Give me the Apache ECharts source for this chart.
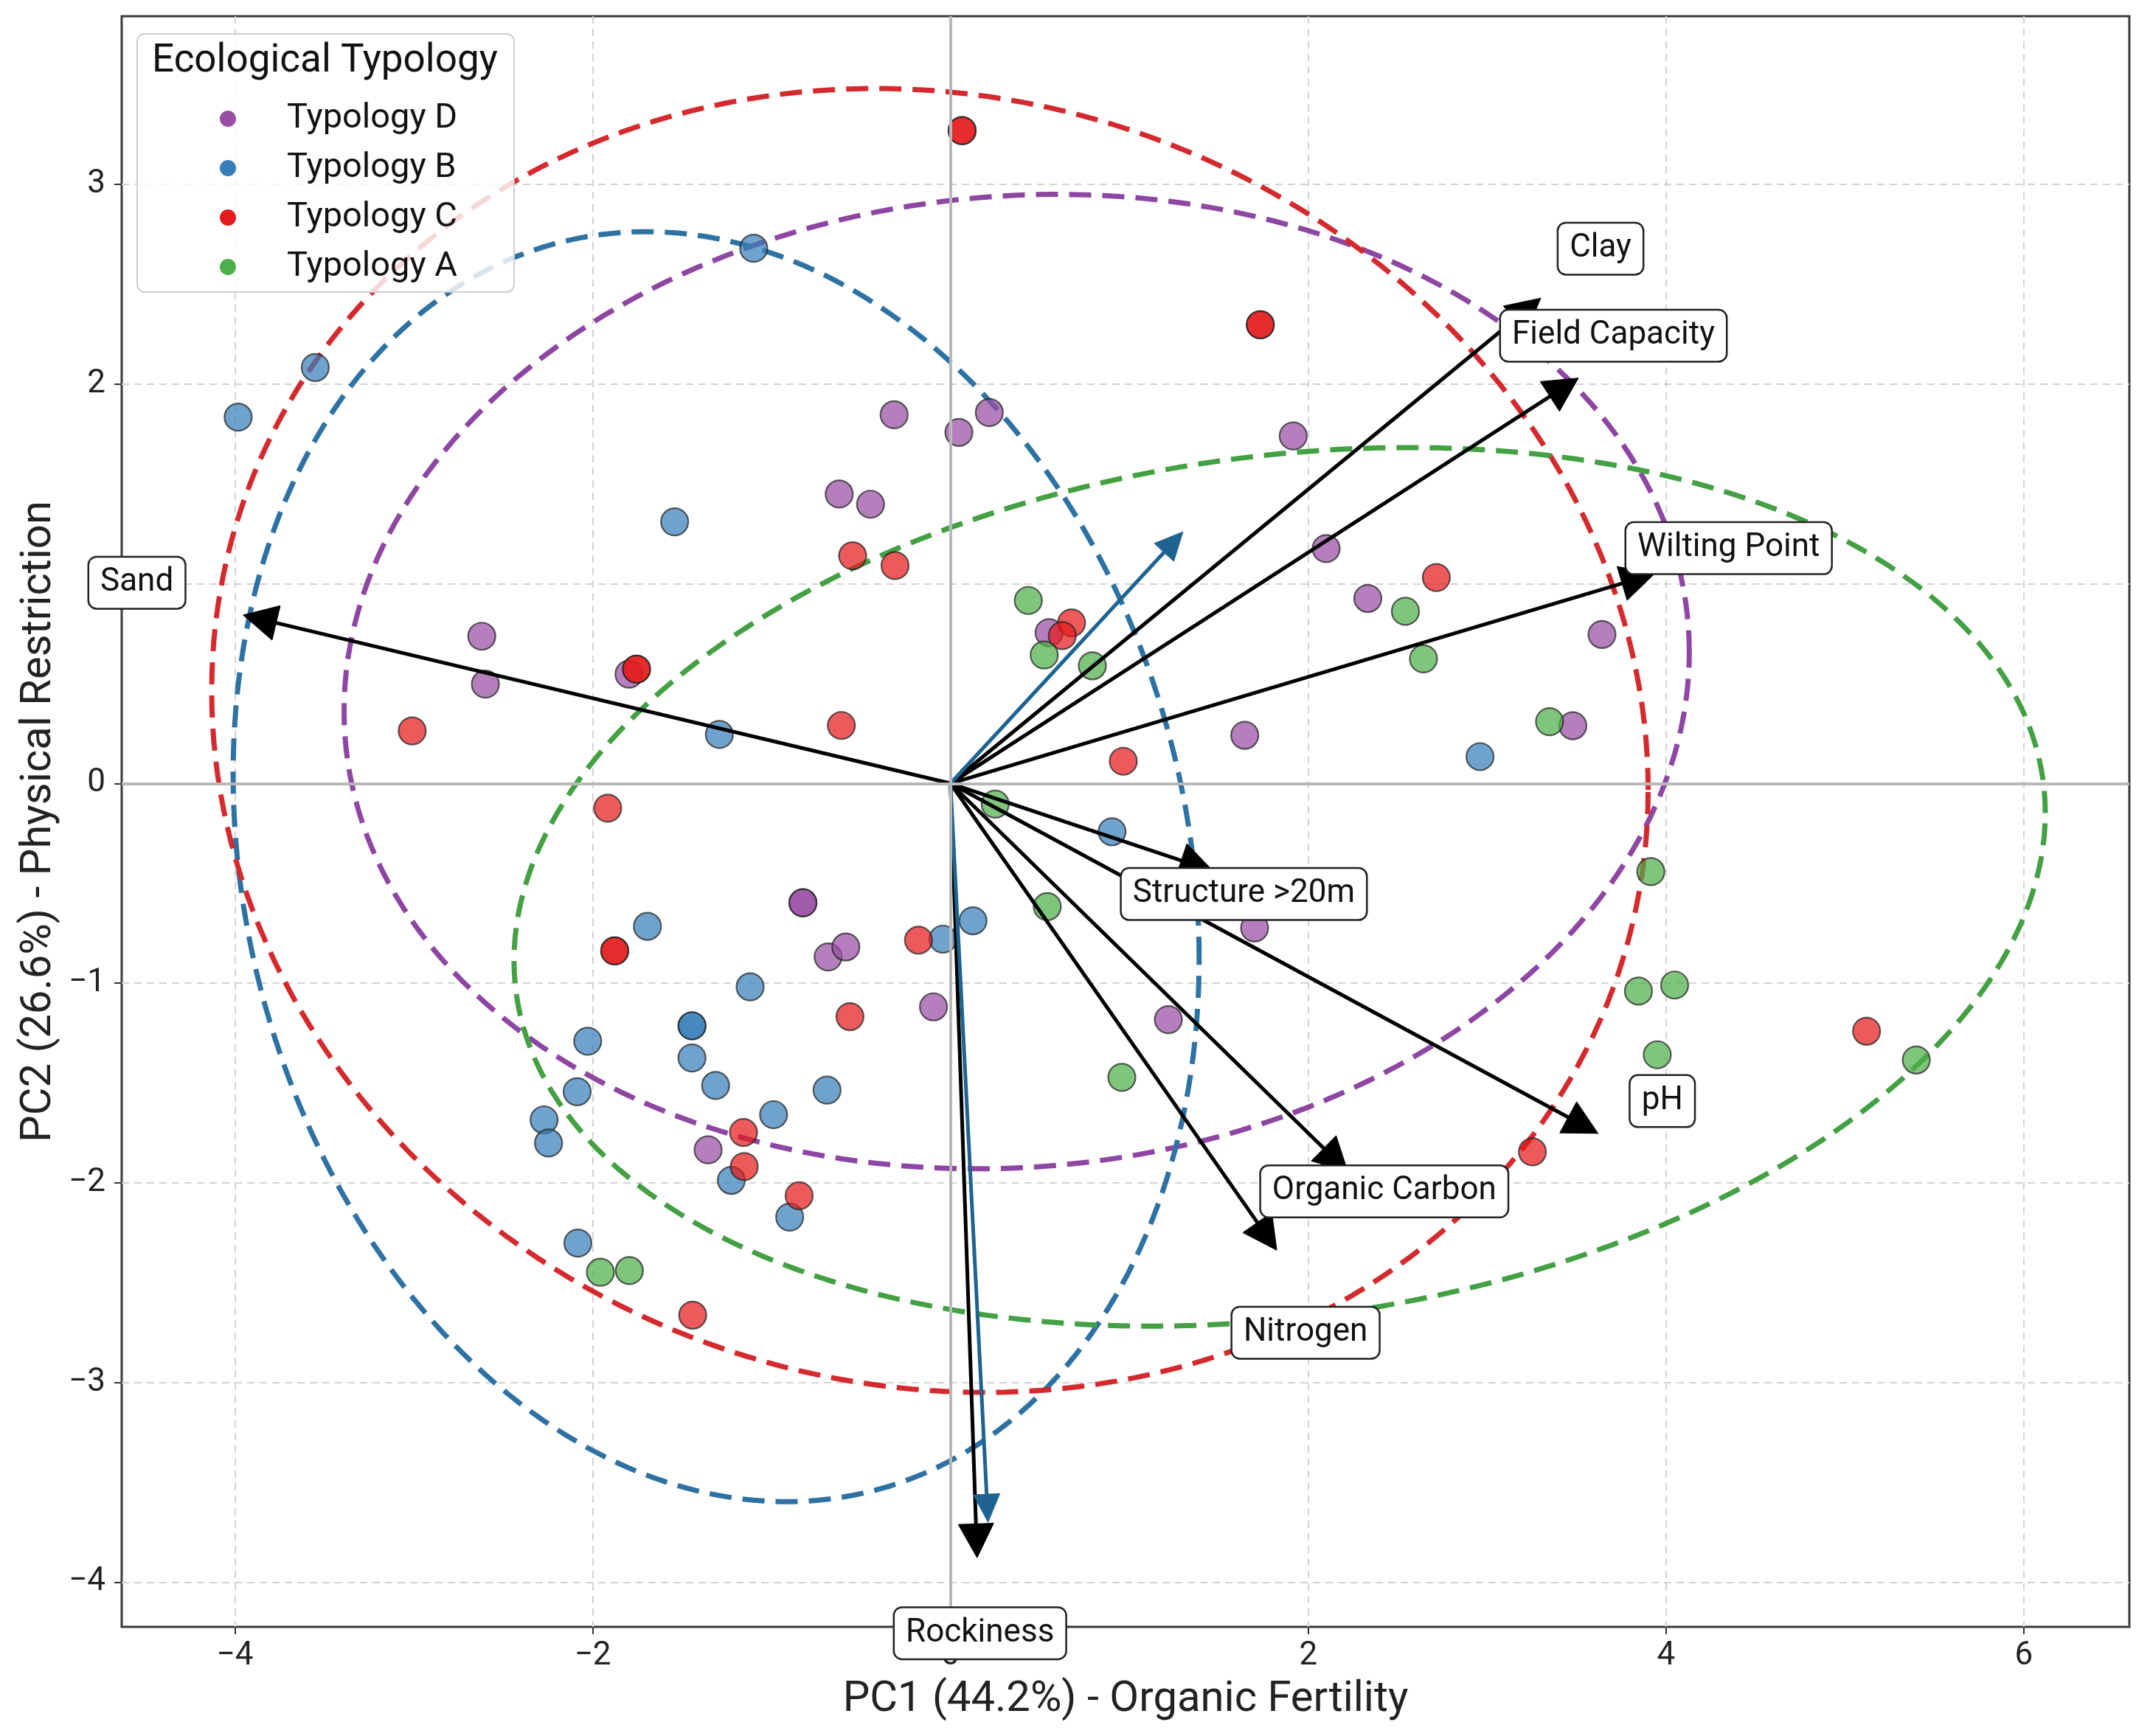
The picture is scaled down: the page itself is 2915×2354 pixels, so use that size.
<!DOCTYPE html>
<html>
<head>
<meta charset="utf-8">
<script src="https://cdn.jsdelivr.net/npm/echarts@6.0.0/dist/echarts.min.js"></script>
<style>
  html, body { margin: 0; padding: 0; background: #fff; }
  #chart { width: 2915px; height: 2354px; }
</style>
</head>
<body>
<div id="chart"></div>
<script>
// scores per typology (PC1, PC2) - stacked duplicates kept where the picture shows a darker dot
const typD = [[-2.62, 0.737], [-2.60, 0.497], [-1.797, 0.547], [-0.622, 1.449], [-0.447, 1.398], [-0.315, 1.846],
  [0.047, 1.758], [0.217, 1.857], [-0.825, -0.598], [-0.825, -0.598], [-0.684, -0.869], [-0.585, -0.819],
  [-0.095, -1.119], [-1.355, -1.835], [0.551, 0.755], [1.645, 0.241], [2.10, 1.176], [1.916, 1.74],
  [2.333, 0.926], [3.479, 0.289], [3.642, 0.746], [1.70, -0.724], [1.218, -1.183]];
const typB = [[-3.982, 1.834], [-3.551, 2.083], [-1.10, 2.68], [-1.542, 1.31], [-1.292, 0.245], [-1.694, -0.716],
  [-1.12, -1.019], [-1.445, -1.214], [-1.445, -1.214], [-1.445, -1.375], [-1.313, -1.513], [-2.028, -1.291],
  [-2.087, -1.544], [-2.272, -1.685], [-2.247, -1.801], [-0.989, -1.659], [-0.69, -1.536], [-1.225, -1.988],
  [-0.899, -2.172], [-2.083, -2.302], [-0.042, -0.78], [0.126, -0.688], [0.903, -0.242], [2.96, 0.134]];
const typC = [[0.065, 3.269], [0.065, 3.269], [1.732, 2.297], [1.732, 2.297], [-3.009, 0.263], [-1.755, 0.572],
  [-1.755, 0.572], [-0.547, 1.14], [-0.31, 1.091], [-0.61, 0.29], [-1.916, -0.124], [-1.877, -0.839],
  [-1.877, -0.839], [-0.179, -0.785], [-0.562, -1.168], [-1.157, -1.748], [-1.153, -1.919], [-0.846, -2.065],
  [-1.441, -2.663], [0.677, 0.804], [0.625, 0.74], [0.966, 0.111], [2.716, 1.031], [3.253, -1.845], [5.121, -1.241]];
const typA = [[0.435, 0.916], [0.524, 0.643], [0.793, 0.589], [2.543, 0.862], [2.644, 0.624], [3.349, 0.309],
  [0.25, -0.104], [0.541, -0.617], [0.958, -1.472], [3.915, -0.442], [3.846, -1.04], [4.048, -1.01],
  [3.951, -1.359], [5.399, -1.385], [-1.957, -2.448], [-1.795, -2.44]];

const typNames = ['Typology D', 'Typology B', 'Typology C', 'Typology A'];
const typColors = ['#984ea3', '#377eb8', '#e41a1c', '#4daf4a'];

// confidence ellipses: centre, half-extent on each axis, correlation
const ellipseCx = [0.37, -1.31, -0.115, 1.84];
const ellipseCy = [0.51, -0.417, 0.215, -0.518];
const ellipseSx = [3.76, 2.70, 4.015, 4.28];
const ellipseSy = [2.44, 3.18, 3.265, 2.20];
const ellipseR = [0.06, -0.145, -0.076, 0.168];
const ellipseColors = ['#8e46a3', '#2e72a3', '#d42a2e', '#43a043'];

// loading arrows and their label boxes
const loadNames = ['Sand', 'Clay', 'Field Capacity', 'Wilting Point', 'Structure >20m', 'pH', 'Organic Carbon', 'Nitrogen', 'Rockiness'];
const loadX = [-3.954, 3.30, 3.51, 3.936, 1.47, 3.62, 2.222, 1.824, 0.149];
const loadY = [0.843, 2.43, 2.03, 1.05, -0.44, -1.753, -1.946, -2.338, -3.878];
const labelX = [-4.548, 3.634, 3.706, 4.35, 1.64, 3.979, 2.425, 1.985, 0.165];
const labelY = [1.005, 2.678, 2.242, 1.178, -0.554, -1.591, -2.043, -2.751, -4.256];

// supplementary (blue) arrows
const suppX = [1.30, 0.21];
const suppY = [1.26, -3.70];

const xMin = -4.633, xMax = 6.59;
const yMin = -4.224, yMax = 3.842;

const FONT = 'Roboto';
const fmtTick = v => {
  if (Math.abs(v - Math.round(v)) > 1e-6) return '';
  const r = Math.round(v);
  return r < 0 ? '\u2212' + Math.abs(r) : String(r);
};

function arrow(api, x, y, color, lw, headLen, headW) {
  const p0 = api.coord([0, 0]);
  const p1 = api.coord([x, y]);
  const dx = p1[0] - p0[0], dy = p1[1] - p0[1];
  const len = Math.hypot(dx, dy);
  const ux = dx / len, uy = dy / len;
  const bx = p1[0] - ux * headLen, by = p1[1] - uy * headLen;
  return {
    type: 'group',
    children: [
      { type: 'line', shape: { x1: p0[0], y1: p0[1], x2: bx, y2: by }, style: { stroke: color, lineWidth: lw, fill: null } },
      { type: 'polygon', shape: { points: [[p1[0], p1[1]], [bx - uy * headW / 2, by + ux * headW / 2], [bx + uy * headW / 2, by - ux * headW / 2]] },
        style: { fill: color, stroke: color, lineWidth: 1 } }
    ]
  };
}

const chart = echarts.init(document.getElementById('chart'));

const scatterSeries = [typD, typB, typC, typA].map((d, i) => ({
  name: typNames[i],
  type: 'scatter',
  data: d,
  symbol: 'circle',
  symbolSize: 37,
  z: 3,
  itemStyle: { color: typColors[i], opacity: 0.72, borderColor: '#222', borderWidth: 2.2 },
  emphasis: { disabled: true }
}));

const splitStyle = { show: true, showMinLine: false, showMaxLine: false, lineStyle: { color: '#d3d3d3', width: 2, type: [10, 7] } };

const option = {
  animation: false,
  backgroundColor: '#fff',
  grid: { left: 165, right: 28, top: 22, bottom: 148, show: true, borderColor: '#3a3a3a', borderWidth: 3, backgroundColor: 'transparent' },
  xAxis: {
    type: 'value', min: xMin, max: xMax, splitNumber: 5,
    axisLine: { show: false, onZero: false },
    axisTick: { show: true, length: 10, lineStyle: { color: '#333', width: 2 } },
    axisLabel: { formatter: fmtTick, fontFamily: FONT, fontSize: 44, color: '#222', margin: 18, showMinLabel: false, showMaxLabel: false },
    splitLine: splitStyle,
    name: 'PC1 (44.2%) - Organic Fertility', nameLocation: 'middle', nameGap: 70,
    nameTextStyle: { fontFamily: FONT, fontSize: 58, color: '#222' }
  },
  yAxis: {
    type: 'value', min: yMin, max: yMax, splitNumber: 8,
    axisLine: { show: false, onZero: false },
    axisTick: { show: true, length: 10, lineStyle: { color: '#333', width: 2 } },
    axisLabel: { formatter: fmtTick, fontFamily: FONT, fontSize: 44, color: '#222', margin: 22, showMinLabel: false, showMaxLabel: false },
    splitLine: splitStyle,
    name: 'PC2 (26.6%) - Physical Restriction', nameLocation: 'middle', nameGap: 82,
    nameTextStyle: { fontFamily: FONT, fontSize: 58, color: '#222' }
  },
  legend: {
    data: typNames,
    orient: 'vertical', left: 293, top: 131, z: 7,
    icon: 'circle', itemWidth: 22, itemHeight: 22, itemGap: 17,
    selectedMode: false,
    itemStyle: { opacity: 1, borderWidth: 0 },
    textStyle: { fontFamily: FONT, fontSize: 47, color: '#111', lineHeight: 50, padding: [0, 0, 0, 64] }
  },
  graphic: [
    { type: 'rect', z: 6, shape: { x: 186, y: 46, width: 511, height: 350, r: 10 },
      style: { fill: 'rgba(255,255,255,0.82)', stroke: '#cfcfcf', lineWidth: 2 } },
    { type: 'text', z: 7, style: { x: 206, y: 84, text: 'Ecological Typology', font: '53px Roboto', fill: '#111', verticalAlign: 'middle' } }
  ],
  series: [
    {
      name: 'ellipses', type: 'custom', z: 1, silent: true,
      data: ellipseCx.map((c, i) => [c, ellipseCy[i]]),
      encode: { x: 0, y: 1 },
      renderItem: (params, api) => {
        const i = params.dataIndex;
        const r = ellipseR[i], q = Math.sqrt(1 - r * r);
        const pts = [];
        for (let k = 0; k <= 240; k++) {
          const t = k / 240 * Math.PI * 2;
          pts.push(api.coord([
            ellipseCx[i] + ellipseSx[i] * Math.cos(t),
            ellipseCy[i] + ellipseSy[i] * (r * Math.cos(t) + q * Math.sin(t))
          ]));
        }
        return { type: 'polyline', shape: { points: pts },
          style: { stroke: ellipseColors[i], lineWidth: 7, lineDash: [30, 15], lineCap: 'butt', fill: null } };
      },
      markLine: {
        silent: true, symbol: 'none', animation: false,
        label: { show: false },
        lineStyle: { color: '#b8b8b8', width: 4, type: 'solid' },
        data: [{ xAxis: 0 }, { yAxis: 0 }]
      }
    },
    ...scatterSeries,
    {
      name: 'loadings', type: 'custom', z: 4, silent: true,
      data: loadX.map((x, i) => [x, loadY[i]]),
      encode: { x: 0, y: 1 },
      renderItem: (params, api) => {
        const i = params.dataIndex;
        return arrow(api, loadX[i], loadY[i], '#000', 5, 46, 48);
      }
    },
    {
      name: 'supplementary', type: 'custom', z: 4, silent: true,
      data: suppX.map((x, i) => [x, suppY[i]]),
      encode: { x: 0, y: 1 },
      renderItem: (params, api) => {
        const i = params.dataIndex;
        return arrow(api, suppX[i], suppY[i], '#1f6391', 5, 38, 36);
      }
    },
    {
      name: 'loadingLabels', type: 'custom', z: 5, silent: true,
      data: labelX.map((x, i) => [x, labelY[i]]),
      encode: { x: 0, y: 1 },
      renderItem: (params, api) => {
        const i = params.dataIndex;
        const p = api.coord([labelX[i], labelY[i]]);
        return {
          type: 'text', x: p[0], y: p[1],
          style: {
            text: loadNames[i], font: '44px Roboto', fill: '#111',
            align: 'center', verticalAlign: 'middle', lineHeight: 46,
            backgroundColor: '#fff', borderColor: '#222', borderWidth: 2.5, borderRadius: 10, padding: [11, 15]
          }
        };
      }
    }
  ]
};

chart.setOption(option);
</script>
</body>
</html>
